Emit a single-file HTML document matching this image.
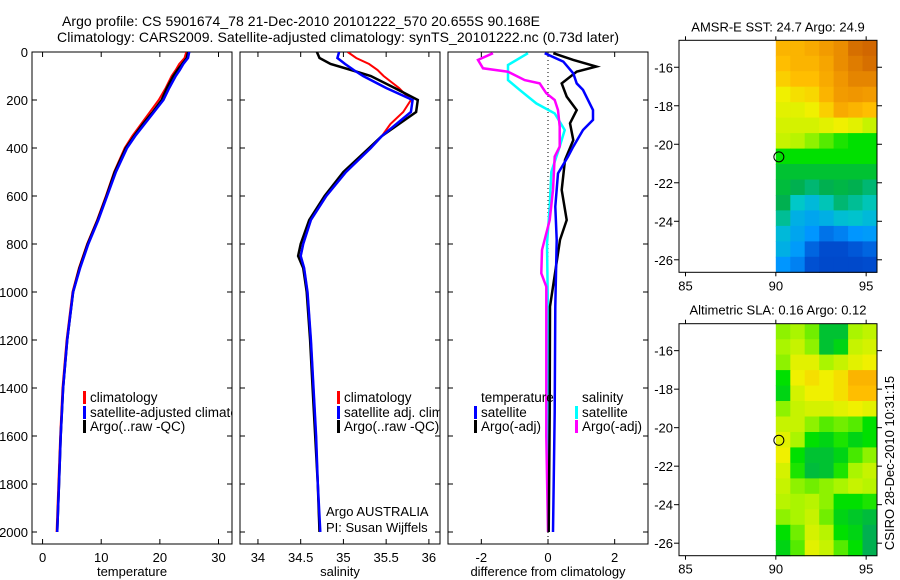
<!DOCTYPE html>
<html><head><meta charset="utf-8"><style>
html,body{margin:0;padding:0;background:#fff;}
svg{display:block;font-family:"Liberation Sans",sans-serif;}
text{fill:#000;}
</style></head><body>
<svg id="c" width="900" height="580" viewBox="0 0 900 580">
<defs><clipPath id="clip1"><rect x="32" y="52" width="200" height="492"/></clipPath>
<clipPath id="clip2"><rect x="240" y="52" width="200" height="492"/></clipPath>
<clipPath id="clip3"><rect x="448" y="52" width="200" height="492"/></clipPath></defs>
<text x="62" y="26" font-size="14" text-anchor="start" textLength="478">Argo profile: CS 5901674_78 21-Dec-2010 20101222_570 20.655S 90.168E</text>
<text x="57" y="42" font-size="14" text-anchor="start" textLength="562">Climatology: CARS2009. Satellite-adjusted climatology: synTS_20101222.nc (0.73d later)</text>
<g id="g"></g>
</svg>
<script>
// ---- data ----
const depths=[0,25,50,75,100,150,200,250,300,350,400,500,600,700,800,900,1000,1200,1400,1600,1800,2000];
const tClim=[24.5,24.2,23.3,22.7,22.0,21.0,19.8,18.3,16.8,15.3,14.0,12.2,10.8,9.3,7.6,6.2,5.1,4.1,3.4,3.0,2.7,2.4];
const tSat=[25.0,24.8,24.0,23.4,22.7,21.6,20.6,19.0,17.4,15.8,14.4,12.5,11.0,9.5,7.8,6.4,5.2,4.2,3.5,3.1,2.8,2.5];
const tArgo=[24.8,24.6,23.8,23.0,22.3,21.2,20.3,18.8,17.1,15.6,14.2,12.3,10.9,9.4,7.7,6.3,5.2,4.2,3.5,3.1,2.8,2.5];
const sDepths=[0,25,50,75,100,150,200,250,300,350,400,500,600,700,800,850,900,1000,1200,1400,1600,1800,2000];
const sClim=[35.05,35.15,35.3,35.4,35.47,35.65,35.79,35.7,35.55,35.45,35.32,35.03,34.8,34.62,34.53,34.5,34.54,34.58,34.62,34.65,34.68,34.7,34.72];
const sSat=[34.95,34.93,35.02,35.12,35.23,35.5,35.81,35.79,35.62,35.45,35.32,35.03,34.8,34.62,34.53,34.5,34.54,34.58,34.62,34.65,34.68,34.7,34.73];
const sArgo=[34.69,34.72,34.85,35.09,35.32,35.6,35.87,35.85,35.65,35.45,35.3,35.0,34.78,34.6,34.5,34.47,34.53,34.57,34.61,34.64,34.67,34.7,34.72];
const dTsatDepth=[5,40,89,131,158,242,283,325,394,436,506,644,783,1061,1500,2000];
const dTsat=[-0.1,0.46,0.76,0.86,1.05,1.35,1.35,1.05,0.76,0.6,0.3,0.22,0.26,0.22,0.2,0.15];
const dTargoDepth=[5,33,61,82,131,186,242,297,367,450,575,700,783,922,1061,1500,2000];
const dTargo=[0.16,0.76,1.45,0.86,0.41,0.56,0.86,0.66,0.76,0.51,0.41,0.56,0.36,0.21,0.06,0.05,0.02];
const dSsatDepth=[5,54,117,158,214,256,325,394,500,644,800,1100,2000];
const dSsat=[-0.6,-1.2,-1.2,-0.85,-0.35,0.2,0.5,0.35,0.1,0.05,-0.03,0,0.02];
const dSargoDepth=[5,33,68,82,117,131,172,200,242,311,394,436,575,700,825,922,978,1200,1600,2000];
const dSargo=[-1.65,-2.1,-1.95,-1.2,-0.7,-0.25,-0.05,0.2,0.3,0.35,0.35,0.2,0.15,0.05,-0.18,-0.2,-0.05,-0.05,-0.05,0];
const depthTicks=[0,200,400,600,800,1000,1200,1400,1600,1800,2000];
const tTicks=[0,10,20,30];
const sTicks=[34,34.5,35,35.5,36];
const dTicks=[-2,0,2];
const latTicks=[-16,-18,-20,-22,-24,-26];
const lonTicks=[85,90,95];
const sstGrid=[
[0.8,0.8,0.82,0.85,0.88,0.95,0.97],[0.78,0.8,0.8,0.83,0.88,0.92,0.95],[0.76,0.78,0.78,0.82,0.86,0.9,0.9],
[0.72,0.74,0.75,0.8,0.85,0.86,0.85],[0.7,0.7,0.72,0.76,0.82,0.8,0.78],[0.68,0.68,0.68,0.7,0.72,0.7,0.66],
[0.66,0.64,0.6,0.56,0.52,0.5,0.5],[0.5,0.5,0.5,0.5,0.5,0.5,0.5],[0.45,0.45,0.45,0.45,0.45,0.45,0.45],
[0.44,0.42,0.4,0.42,0.43,0.42,0.4],[0.42,0.35,0.32,0.36,0.4,0.38,0.36],[0.38,0.3,0.28,0.3,0.33,0.34,0.32],
[0.32,0.28,0.25,0.2,0.22,0.25,0.26],[0.3,0.26,0.18,0.12,0.12,0.16,0.18],[0.25,0.22,0.15,0.1,0.1,0.1,0.12]];
const slaGrid=[
[0.6,0.62,0.58,0.45,0.45,0.62,0.65],[0.62,0.66,0.6,0.45,0.48,0.66,0.68],[0.6,0.7,0.7,0.62,0.66,0.7,0.72],
[0.5,0.72,0.74,0.72,0.74,0.8,0.8],[0.48,0.68,0.72,0.72,0.74,0.78,0.78],[0.6,0.66,0.68,0.68,0.7,0.72,0.7],
[0.66,0.66,0.6,0.56,0.58,0.56,0.5],[0.7,0.62,0.5,0.48,0.52,0.48,0.5],[0.72,0.5,0.45,0.45,0.48,0.55,0.6],
[0.68,0.52,0.44,0.45,0.52,0.62,0.66],[0.66,0.6,0.58,0.6,0.62,0.66,0.64],[0.64,0.62,0.64,0.6,0.5,0.5,0.52],
[0.6,0.62,0.66,0.58,0.48,0.46,0.44],[0.5,0.58,0.68,0.64,0.5,0.48,0.42],[0.48,0.56,0.7,0.66,0.56,0.5,0.42]];
const floatLon=90.168, floatLat=-20.655;
// ---- helpers ----
const NS="http://www.w3.org/2000/svg";
const G=document.getElementById('g');
function mk(tag,at,parent){const e=document.createElementNS(NS,tag);for(const k in at)e.setAttribute(k,at[k]);(parent||G).appendChild(e);return e;}
const Y=d=>52+d*0.24;
const panels=[{x0:32,lo:-1.8,hi:32.3,ticks:tTicks,lab:'temperature',clip:'clip1'},
{x0:240,lo:33.79,hi:36.13,ticks:sTicks,lab:'salinity',clip:'clip2'},
{x0:448,lo:-3,hi:3,ticks:dTicks,lab:'difference from climatology',clip:'clip3'}];
panels.forEach((p,i)=>{
  p.X=v=>p.x0+(v-p.lo)/(p.hi-p.lo)*200;
  const f=mk('rect',{x:p.x0,y:52,width:200,height:492,fill:'none',stroke:'#000','stroke-width':1});
  
  
  depthTicks.forEach(d=>{
    mk('line',{x1:p.x0,x2:p.x0+5,y1:Y(d),y2:Y(d),stroke:'#000'});
    mk('line',{x1:p.x0+200,x2:p.x0+195,y1:Y(d),y2:Y(d),stroke:'#000'});
    if(i==0){const t=mk('text',{x:p.x0-4,y:Y(d)+5,'font-size':13,'text-anchor':'end'});t.textContent=d;
      
      }
  });
  p.ticks.forEach(v=>{
    const x=p.X(v);
    mk('line',{x1:x,x2:x,y1:52,y2:57,stroke:'#000'});
    mk('line',{x1:x,x2:x,y1:544,y2:539,stroke:'#000'});
    const t=mk('text',{x:x,y:562,'font-size':13,'text-anchor':'middle'});t.textContent=v;
    
    
  });
  const l=mk('text',{x:p.x0+100,y:576,'font-size':13,'text-anchor':'middle'});l.textContent=p.lab;
  
  
});
function line(p,xs,ds,col,w,name){
  const pts=xs.map((v,k)=>p.X(v).toFixed(1)+','+Y(ds[k]).toFixed(1)).join(' ');
  const e=mk('polyline',{points:pts,fill:'none',stroke:col,'stroke-width':w,'clip-path':'url(#'+p.clip+')'});
  
  
}
const P1=panels[0],P2=panels[1],P3=panels[2];
line(P1,tClim,depths,'#f00',2,'temp-climatology-line');
line(P1,tArgo,depths,'#000',2.5,'temp-argo-line');
line(P1,tSat,depths,'#00f',2.5,'temp-satellite-line');
line(P2,sClim,sDepths,'#f00',2,'sal-climatology-line');
line(P2,sArgo,sDepths,'#000',2.5,'sal-argo-line');
line(P2,sSat,sDepths,'#00f',2.5,'sal-satellite-line');
mk('line',{x1:P3.X(0),x2:P3.X(0),y1:52,y2:544,stroke:'#000','stroke-dasharray':'1,3'});
line(P3,dSsat,dSsatDepth,'#0ff',2.5,'diff-sal-satellite-line');
line(P3,dSargo,dSargoDepth,'#f0f',2.5,'diff-sal-argo-line');
line(P3,dTargo,dTargoDepth,'#000',2.5,'diff-temp-argo-line');
line(P3,dTsat,dTsatDepth,'#00f',2.5,'diff-temp-satellite-line');
// legends
function leg(x,y,col,txt,clip,name){
  if(col)mk('rect',{x:x,y:y-6,width:3,height:13,fill:col});
  const t=mk('text',{x:x+7,y:y+5,'font-size':13.5});t.textContent=txt;
  if(clip)t.setAttribute('clip-path','url(#'+clip+')');
  
  
}
leg(83,397,'#f00','climatology','clip1','legend-climatology');
leg(83,412,'#00f','satellite-adjusted climatology','clip1','legend-satellite-adjusted');
leg(83,426,'#000','Argo(..raw -QC)','clip1','legend-argo');
leg(337,397,'#f00','climatology','clip2','legend2-climatology');
leg(337,412,'#00f','satellite adj. clim.','clip2','legend2-satellite');
leg(337,426,'#000','Argo(..raw -QC)','clip2','legend2-argo');
leg(474,397,null,'temperature','clip3','legend3-temperature');
leg(474,412,'#00f','satellite','clip3','legend3-temp-satellite');
leg(474,426,'#000','Argo(-adj)','clip3','legend3-temp-argo');
leg(575,397,null,'salinity','clip3','legend3-salinity');
leg(575,412,'#0ff','satellite','clip3','legend3-sal-satellite');
leg(575,426,'#f0f','Argo(-adj)','clip3','legend3-sal-argo');
let t1=mk('text',{x:326,y:516,'font-size':13});t1.textContent='Argo AUSTRALIA';


let t2=mk('text',{x:326,y:532,'font-size':13});t2.textContent='PI: Susan Wijffels';


// maps
const stops=[[0,[0,60,190]],[0.15,[0,80,210]],[0.25,[0,150,255]],[0.35,[0,200,200]],[0.42,[0,176,80]],[0.5,[0,224,0]],[0.62,[170,245,0]],[0.72,[240,240,0]],[0.78,[255,190,0]],[0.86,[240,150,0]],[1,[200,90,0]]];
function cmap(v){for(let i=1;i<stops.length;i++){if(v<=stops[i][0]){const a=stops[i-1],b=stops[i],f=(v-a[0])/(b[0]-a[0]);return 'rgb('+a[1].map((c,k)=>Math.round(c+(b[1][k]-c)*f)).join(',')+')';}}return 'rgb(200,90,0)';}
function map(top,grid,title,name){
  const L0=84.64,L1=95.6,T0=-14.6,T1=-26.65,x0=679,w=198,h=232;
  const X=l=>x0+(l-L0)/(L1-L0)*w, Yy=a=>top+(a-T0)/(T1-T0)*h;
  const g=mk('g',{});
  const dl=(L1-90)/grid[0].length, da=(T1-T0)/grid.length;
  grid.forEach((row,r)=>row.forEach((v,c)=>{
    const xa=X(90+c*dl),xb=X(90+(c+1)*dl),ya=Yy(T0+r*da),yb=Yy(T0+(r+1)*da);
    const e=mk('rect',{x:xa.toFixed(1),y:ya.toFixed(1),width:(xb-xa+0.5).toFixed(1),height:(yb-ya+0.5).toFixed(1),fill:cmap(v)},g);
    
    
  }));
  mk('rect',{x:x0,y:top,width:w,height:h,fill:'none',stroke:'#000'},g);
  latTicks.forEach(a=>{const y=Yy(a);mk('line',{x1:x0-5,x2:x0,y1:y,y2:y,stroke:'#000'},g);mk('line',{x1:x0+w,x2:x0+w+5,y1:y,y2:y,stroke:'#000'},g);
    const t=mk('text',{x:x0-6,y:y+5,'font-size':13,'text-anchor':'end'},g);t.textContent=a;});
  lonTicks.forEach(l=>{const x=X(l);mk('line',{x1:x,x2:x,y1:top,y2:top-4,stroke:'#000'},g);mk('line',{x1:x,x2:x,y1:top+h,y2:top+h+4,stroke:'#000'},g);
    const t=mk('text',{x:x,y:top+h+18,'font-size':13,'text-anchor':'middle'},g);t.textContent=l;});
  const tt=mk('text',{x:x0+w/2,y:top-9,'font-size':13,'text-anchor':'middle'},g);tt.textContent=title;
  
  
  const c=mk('circle',{cx:X(floatLon),cy:Yy(floatLat),r:5,fill:'none',stroke:'#000'},g);
  
  
}
map(40.3,sstGrid,'AMSR-E SST: 24.7 Argo: 24.9','sst-map');
map(323.7,slaGrid,'Altimetric SLA: 0.16 Argo: 0.12','sla-map');
const cs=mk('text',{x:0,y:0,'font-size':13,'text-anchor':'middle',transform:'translate(894,463) rotate(-90)'});
cs.textContent='CSIRO 28-Dec-2010 10:31:15';


</script>
</body></html>
